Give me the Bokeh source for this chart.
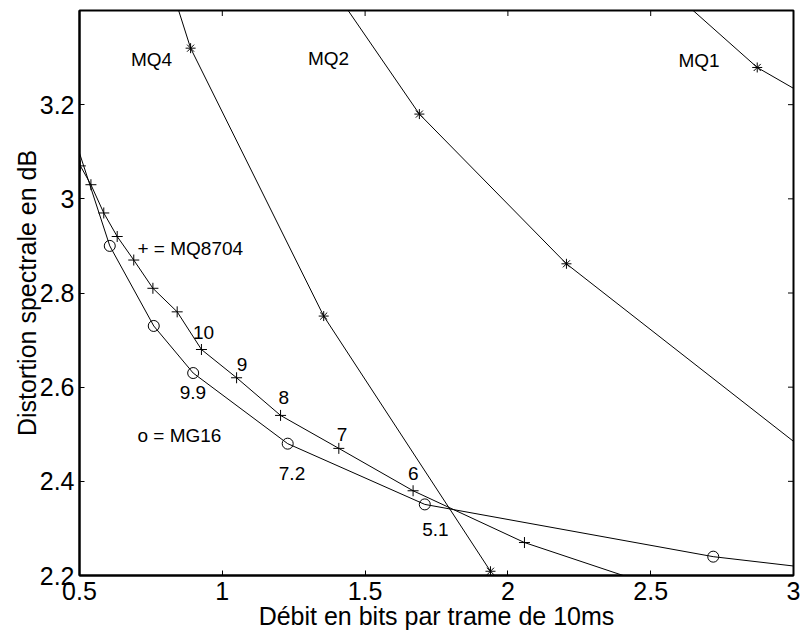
import math
from bokeh.plotting import figure
from bokeh.models import FixedTicker, Range1d
from bokeh.core.properties import value
from bokeh.embed import file_html
from bokeh.resources import INLINE

# ---- data ----
mq4_rate = [0.80, 0.889, 1.355, 1.939]
mq4_dist = [3.49, 3.32, 2.751, 2.209]

mq2_rate = [1.35, 1.69, 2.205, 3.20]
mq2_dist = [3.48, 3.18, 2.862, 2.39]

mq1_rate = [2.50, 2.873, 3.30]
mq1_dist = [3.48, 3.279, 3.13]

mq8704_rate = [0.48, 0.503, 0.54, 0.585, 0.632, 0.690, 0.757, 0.842, 0.927,
               1.050, 1.204, 1.408, 1.668, 2.058, 2.70]
mq8704_dist = [3.095, 3.07, 3.03, 2.97, 2.92, 2.87, 2.81, 2.76, 2.68,
               2.62, 2.54, 2.47, 2.38, 2.27, 2.14]

mg16_rate = [0.45, 0.606, 0.760, 0.898, 1.229, 1.709, 2.719, 3.30]
mg16_dist = [3.19, 2.90, 2.73, 2.63, 2.48, 2.351, 2.24, 2.199]

x_min, x_max = 0.5, 3.0
y_min, y_max = 2.2, 3.4
x_ticks = [0.5, 1, 1.5, 2, 2.5, 3]
x_tick_labels = ["0.5", "1", "1.5", "2", "2.5", "3"]
y_ticks = [2.2, 2.4, 2.6, 2.8, 3.0, 3.2]
y_tick_labels = ["2.2", "2.4", "2.6", "2.8", "3", "3.2"]

# annotations
curve_names = ["MQ4", "MQ2", "MQ1"]
curve_name_x = [0.752, 1.372, 2.669]
curve_name_y = [3.295, 3.297, 3.294]

legend_text = ["+ = MQ8704", "o = MG16"]
legend_x = [0.703, 0.703]
legend_y = [2.895, 2.498]

num_text = ["10", "9", "8", "7", "6", "9.9", "7.2", "5.1"]
num_x = [0.934, 1.069, 1.215, 1.419, 1.669, 0.897, 1.244, 1.746]
num_y = [2.717, 2.649, 2.578, 2.499, 2.416, 2.589, 2.417, 2.298]

FONT = "Liberation Sans"

p = figure(width=802, height=632,
           x_range=Range1d(x_min, x_max), y_range=Range1d(y_min, y_max),
           output_backend="svg", toolbar_location=None,
           min_border_left=79, min_border_right=9,
           min_border_top=10, min_border_bottom=50,
           x_axis_label="Débit en bits par trame de 10ms",
           y_axis_label="Distortion spectrale en dB")
p.grid.visible = False
p.outline_line_color = "black"
p.outline_line_width = 2
p.background_fill_color = "white"
p.border_fill_color = "white"

for ax, ticks, labels in ((p.xaxis[0], x_ticks, x_tick_labels),
                          (p.yaxis[0], y_ticks, y_tick_labels)):
    ax.ticker = FixedTicker(ticks=ticks)
    ax.major_label_overrides = {t: l for t, l in zip(ticks, labels)}
    ax.major_tick_in = 5
    ax.major_tick_out = 0
    ax.minor_tick_line_color = None
    ax.axis_line_width = 2
    ax.major_tick_line_width = 1
    ax.major_label_text_font = FONT
    ax.major_label_text_font_size = "25px"
    ax.major_label_text_color = "black"
    ax.axis_label_text_font = FONT
    ax.axis_label_text_font_size = "25px"
    ax.axis_label_text_font_style = "normal"
    ax.axis_label_text_color = "black"

p.xaxis.major_label_standoff = 6
p.xaxis.axis_label_standoff = -1
p.yaxis.major_label_standoff = 5
p.yaxis.axis_label_standoff = -4

# mirrored tick marks on the top and right edges (half of each dash is clipped)
p.scatter(x_ticks, [y_max] * len(x_ticks), marker="dash", angle=math.pi / 2,
          size=11, line_color="black", line_width=1)
p.scatter([x_max] * len(y_ticks), y_ticks, marker="dash",
          size=11, line_color="black", line_width=1)

# curves
for xs, ys in ((mq4_rate, mq4_dist), (mq2_rate, mq2_dist), (mq1_rate, mq1_dist)):
    p.line(xs, ys, line_color="black", line_width=1)
    p.scatter(xs, ys, marker="asterisk", size=10, line_color="black", line_width=1)

p.line(mq8704_rate, mq8704_dist, line_color="black", line_width=1)
p.scatter(mq8704_rate, mq8704_dist, marker="cross", size=11,
          line_color="black", line_width=1)

p.line(mg16_rate, mg16_dist, line_color="black", line_width=1)
p.scatter(mg16_rate, mg16_dist, marker="circle", size=11,
          line_color="black", fill_color=None, line_width=1)

# texts
p.text(curve_name_x, curve_name_y, text=curve_names, text_font=value(FONT),
       text_font_size="19px", text_align="center", text_baseline="middle",
       text_color="black")
p.text(legend_x, legend_y, text=legend_text, text_font=value(FONT),
       text_font_size="19px", text_align="left", text_baseline="middle",
       text_color="black")
p.text(num_x, num_y, text=num_text, text_font=value(FONT),
       text_font_size="19px", text_align="center", text_baseline="middle",
       text_color="black")

open("out.html", "w").write(file_html(p, INLINE))
